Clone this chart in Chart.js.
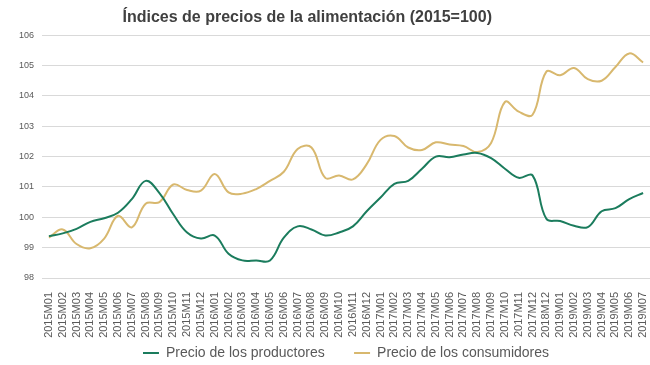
<!DOCTYPE html>
<html>
<head>
<meta charset="utf-8">
<script src="https://cdn.jsdelivr.net/npm/chart.js@4"></script>
<style>
  html, body { margin: 0; padding: 0; background: #fff; }
  #wrap { width: 650px; height: 365px; }
</style>
</head>
<body>
<div id="wrap"><canvas id="chart"></canvas></div>
<script>
// trailing spaces nudge the centred title left, as in the source
const TITLE = "Índices de precios de la alimentación (2015=100)        ";

const months = [
  "2015M01", "2015M02", "2015M03", "2015M04", "2015M05", "2015M06",
  "2015M07", "2015M08", "2015M09", "2015M10", "2015M11", "2015M12",
  "2016M01", "2016M02", "2016M03", "2016M04", "2016M05", "2016M06",
  "2016M07", "2016M08", "2016M09", "2016M10", "2016M11", "2016M12",
  "2017M01", "2017M02", "2017M03", "2017M04", "2017M05", "2017M06",
  "2017M07", "2017M08", "2017M09", "2017M10", "2017M11", "2017M12",
  "2018M12", "2019M01", "2019M02", "2019M03", "2019M04", "2019M05",
  "2019M06", "2019M07",
];

// Precio de los productores
const productores = [
  99.38, 99.47, 99.62, 99.85, 99.97, 100.15, 100.6, 101.2, 100.8, 100.1, 99.5, 99.3,
  99.4, 98.8, 98.58, 98.58, 98.58, 99.33, 99.7, 99.6, 99.4, 99.5, 99.7, 100.2,
  100.65, 101.1, 101.2, 101.6, 102.0, 101.98, 102.07, 102.12, 101.95, 101.6, 101.3, 101.38,
  99.95, 99.88, 99.72, 99.68, 100.2, 100.3, 100.6, 100.8,
];

// Precio de los consumidores
const consumidores = [
  99.33, 99.6, 99.12, 98.98, 99.3, 100.05, 99.67, 100.45, 100.5, 101.08, 100.9, 100.88,
  101.43, 100.82, 100.78, 100.93, 101.2, 101.5, 102.25, 102.3, 101.3, 101.38, 101.25, 101.75,
  102.55, 102.68, 102.3, 102.22, 102.47, 102.4, 102.35, 102.15, 102.45, 103.8, 103.48, 103.38,
  104.8, 104.68, 104.92, 104.55, 104.5, 104.95, 105.4, 105.1,
];

const yTicks = { min: 98, max: 106, step: 1 };

const GREEN = "#1b7c5d";
const GOLD = "#d8b86e";
const GRID = "#d9d9d9";
const TEXT = "#595959";
const FONT = "'Liberation Sans', Arial, sans-serif";

new Chart(document.getElementById("chart"), {
  type: "line",
  data: {
    labels: months,
    datasets: [
      {
        label: "Precio de los productores      ",
        data: productores,
        borderColor: GREEN,
        backgroundColor: GREEN,
        borderWidth: 2,
        pointRadius: 0,
        tension: 0.4,
      },
      {
        label: "Precio de los consumidores",
        data: consumidores,
        borderColor: GOLD,
        backgroundColor: GOLD,
        borderWidth: 2,
        pointRadius: 0,
        tension: 0.4,
      },
    ],
  },
  options: {
    responsive: true,
    maintainAspectRatio: false,
    animation: false,
    layout: { padding: { left: 0, right: 0, top: 0, bottom: -5 } },
    plugins: {
      title: {
        display: true,
        text: TITLE,
        color: "#404040",
        font: { family: FONT, size: 16, weight: "bold" },
        padding: { top: 8, bottom: 8 },
      },
      legend: {
        position: "bottom",
        fullSize: false,
        labels: {
          color: TEXT,
          font: { family: FONT, size: 14 },
          boxWidth: 16,
          boxHeight: 2,
          padding: 6,
          generateLabels: (chart) =>
            Chart.defaults.plugins.legend.labels
              .generateLabels(chart)
              .map((l) => ({ ...l, lineWidth: 0 })),
        },
      },
      tooltip: { enabled: false },
    },
    scales: {
      x: {
        offset: true,
        grid: { display: false },
        border: { display: false },
        ticks: {
          color: TEXT,
          font: { family: FONT, size: 11 },
          minRotation: 90,
          maxRotation: 90,
          autoSkip: false,
          padding: 6,
        },
        afterFit: (s) => {
          s.height = 62;
          s.paddingLeft = 0;
          s.paddingRight = 0;
        },
      },
      y: {
        min: yTicks.min,
        max: yTicks.max,
        grid: { color: GRID, lineWidth: 1, drawTicks: false },
        border: { display: false },
        ticks: {
          stepSize: yTicks.step,
          color: TEXT,
          font: { family: FONT, size: 9 },
          padding: 8,
        },
        afterFit: (s) => { s.width = 42; },
      },
    },
  },
});
</script>
</body>
</html>
